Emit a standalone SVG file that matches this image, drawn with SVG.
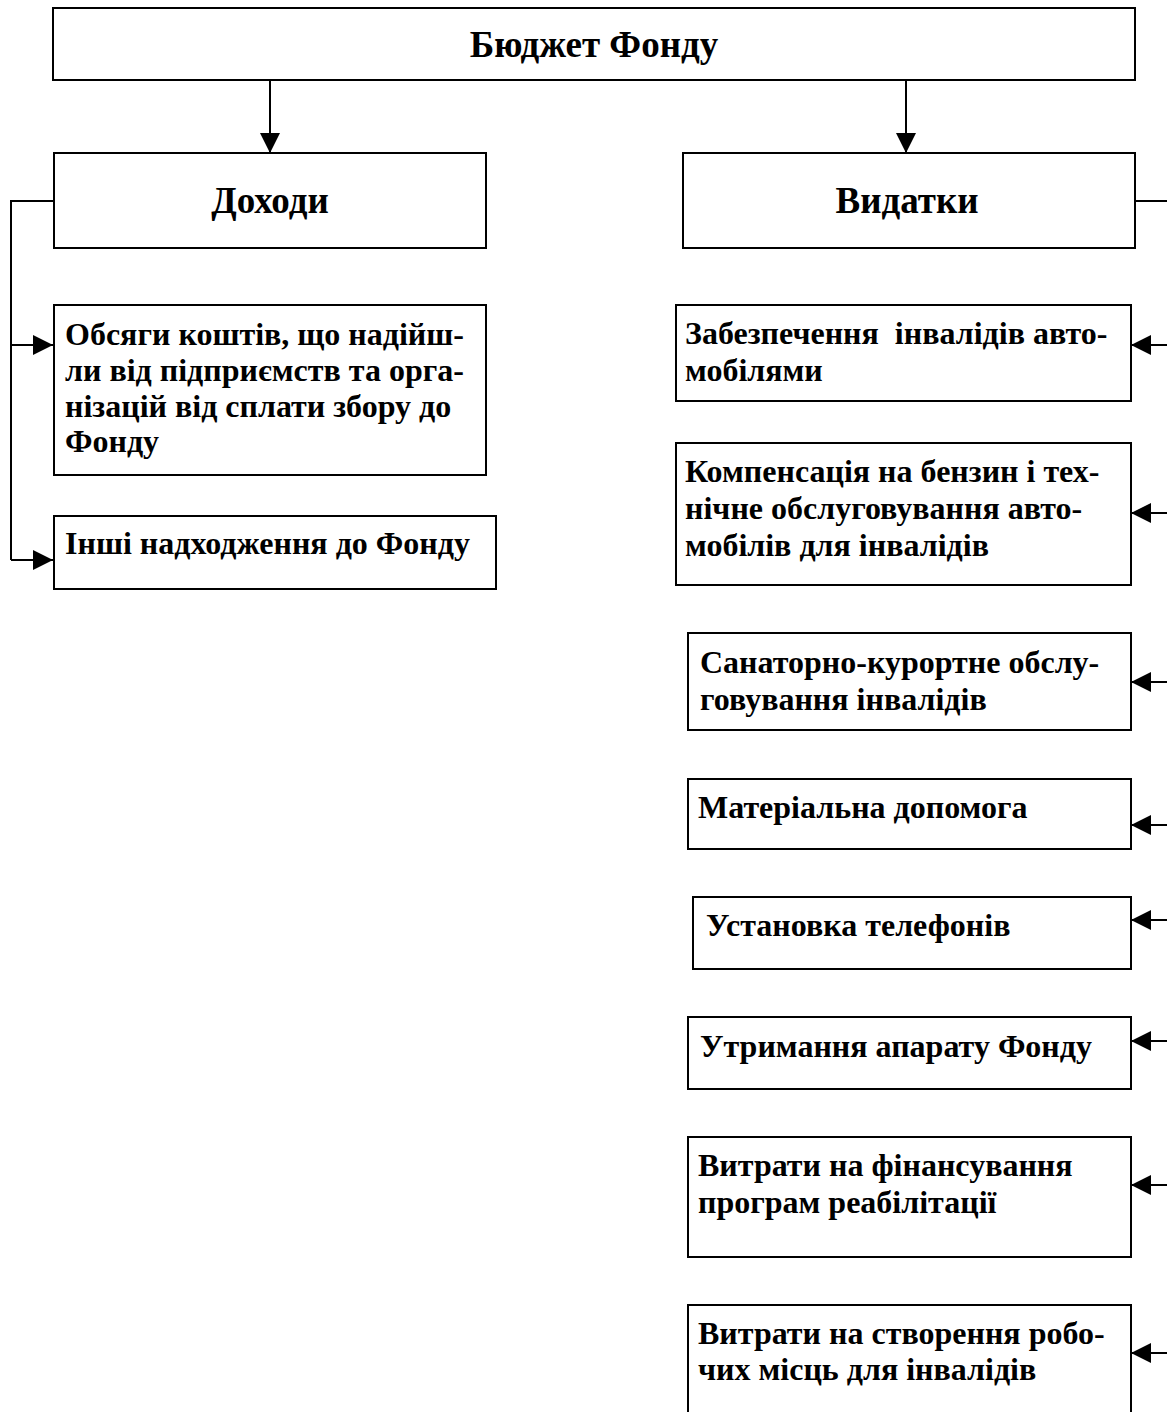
<svg xmlns="http://www.w3.org/2000/svg" width="1167" height="1412" viewBox="0 0 1167 1412">
<style>
.box{fill:#fff;stroke:#000;stroke-width:2}
.t{font-family:"Liberation Serif","Times New Roman",serif;font-weight:bold;fill:#000}
.h{font-size:37px}
.b{font-size:32px}
.c{fill:none;stroke:#000;stroke-width:2}
</style>
<defs>
<marker id="ah" markerUnits="userSpaceOnUse" markerWidth="22" markerHeight="22" refX="20" refY="10" orient="auto">
<path d="M0,0 L20,10 L0,20 Z" fill="#000"/>
</marker>
</defs>
<g id="connectors">
<line class="c" x1="270" y1="80" x2="270" y2="153" marker-end="url(#ah)"/>
<line class="c" x1="906" y1="80" x2="906" y2="153" marker-end="url(#ah)"/>
<polyline class="c" points="53,201 11,201 11,560"/>
<line class="c" x1="11" y1="345" x2="53" y2="345" marker-end="url(#ah)"/>
<line class="c" x1="11" y1="560" x2="53" y2="560" marker-end="url(#ah)"/>
<line class="c" x1="1135" y1="201" x2="1167" y2="201"/>
<line class="c" x1="1167" y1="345" x2="1131" y2="345" marker-end="url(#ah)"/>
<line class="c" x1="1167" y1="513" x2="1131" y2="513" marker-end="url(#ah)"/>
<line class="c" x1="1167" y1="682" x2="1131" y2="682" marker-end="url(#ah)"/>
<line class="c" x1="1167" y1="825" x2="1131" y2="825" marker-end="url(#ah)"/>
<line class="c" x1="1167" y1="920" x2="1131" y2="920" marker-end="url(#ah)"/>
<line class="c" x1="1167" y1="1041" x2="1131" y2="1041" marker-end="url(#ah)"/>
<line class="c" x1="1167" y1="1185" x2="1131" y2="1185" marker-end="url(#ah)"/>
<line class="c" x1="1167" y1="1353" x2="1131" y2="1353" marker-end="url(#ah)"/>
</g>
<g id="budget">
<rect class="box" x="53" y="8" width="1082" height="72"/>
<text class="t h" x="594" y="57" text-anchor="middle">Бюджет Фонду</text>
</g>
<g id="income">
<rect class="box" x="54" y="153" width="432" height="95"/>
<text class="t h" x="270" y="213" text-anchor="middle">Доходи</text>
</g>
<g id="expenses">
<rect class="box" x="683" y="153" width="452" height="95"/>
<text class="t h" x="907" y="213" text-anchor="middle">Видатки</text>
</g>
<g id="inc1">
<rect class="box" x="54" y="305" width="432" height="170"/>
<text class="t b"><tspan x="65" y="345">Обсяги коштів, що надійш-</tspan><tspan x="65" y="381">ли від підприємств та орга-</tspan><tspan x="65" y="417">нізацій від сплати збору до</tspan><tspan x="65" y="452">Фонду</tspan></text>
</g>
<g id="inc2">
<rect class="box" x="54" y="516" width="442" height="73"/>
<text class="t b" x="65" y="554">Інші надходження до Фонду</text>
</g>
<g id="exp1">
<rect class="box" x="676" y="305" width="455" height="96"/>
<text class="t b"><tspan x="685" y="344" xml:space="preserve">Забезпечення  інвалідів авто-</tspan><tspan x="685" y="381">мобілями</tspan></text>
</g>
<g id="exp2">
<rect class="box" x="676" y="443" width="455" height="142"/>
<text class="t b"><tspan x="685" y="482">Компенсація на бензин і тех-</tspan><tspan x="685" y="519">нічне обслуговування авто-</tspan><tspan x="685" y="556">мобілів для інвалідів</tspan></text>
</g>
<g id="exp3">
<rect class="box" x="688" y="633" width="443" height="97"/>
<text class="t b"><tspan x="700" y="673">Санаторно-курортне обслу-</tspan><tspan x="700" y="710">говування інвалідів</tspan></text>
</g>
<g id="exp4">
<rect class="box" x="688" y="779" width="443" height="70"/>
<text class="t b" x="698" y="818">Матеріальна допомога</text>
</g>
<g id="exp5">
<rect class="box" x="693" y="897" width="438" height="72"/>
<text class="t b" x="706" y="936">Установка телефонів</text>
</g>
<g id="exp6">
<rect class="box" x="688" y="1017" width="443" height="72"/>
<text class="t b" x="700" y="1057">Утримання апарату Фонду</text>
</g>
<g id="exp7">
<rect class="box" x="688" y="1137" width="443" height="120"/>
<text class="t b"><tspan x="698" y="1176">Витрати на фінансування</tspan><tspan x="698" y="1213">програм реабілітації</tspan></text>
</g>
<g id="exp8">
<rect class="box" x="688" y="1305" width="443" height="130"/>
<text class="t b"><tspan x="698" y="1344">Витрати на створення робо-</tspan><tspan x="698" y="1380">чих місць для інвалідів</tspan></text>
</g>
</svg>
